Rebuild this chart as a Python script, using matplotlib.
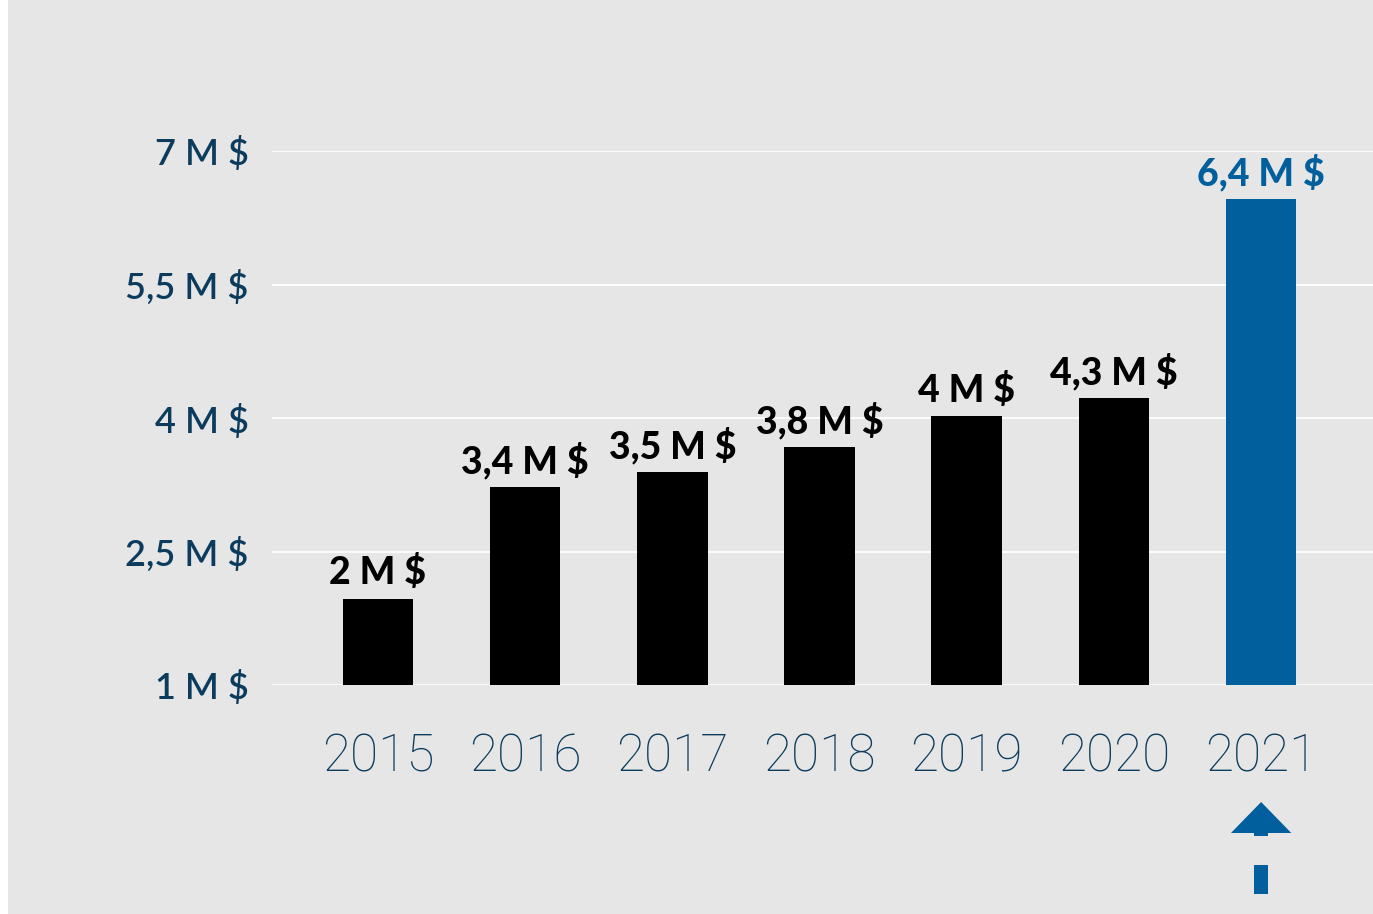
import matplotlib.pyplot as plt
from matplotlib.patches import Rectangle, Polygon
from matplotlib.transforms import blended_transform_factory

# data
years = ['2015', '2016', '2017', '2018', '2019', '2020', '2021']
heights = [1.97, 3.22, 3.39, 3.67, 4.02, 4.22, 6.46]
value_labels = ['2 M $', '3,4 M $', '3,5 M $', '3,8 M $', '4 M $', '4,3 M $', '6,4 M $']
y_ticks = [1, 2.5, 4, 5.5, 7]
y_tick_labels = ['1 M $', '2,5 M $', '4 M $', '5,5 M $', '7 M $']

BG = '#e6e6e6'
NAVY = '#0b3c5d'
BLUE = '#005f9c'

W, H = 1373, 914
fig = plt.figure(figsize=(W / 100, H / 100), dpi=100, facecolor='white')
fig.patches.append(Rectangle((8 / W, 0), 1 - 8 / W, 1, transform=fig.transFigure,
                             facecolor=BG, edgecolor='none', zorder=-10))

ax = fig.add_axes([272 / W, (H - 685) / H, (W - 272) / W, (685 - 151) / H])
ax.set_facecolor(BG)
ax.patch.set_alpha(0)
for s in ax.spines.values():
    s.set_visible(False)

x = list(range(len(years)))
colors = ['black'] * (len(years) - 1) + [BLUE]
ax.bar(x, [h - 1 for h in heights], bottom=1, width=0.48, color=colors, zorder=3)

ax.set_xlim(-0.72, 6.76)
ax.set_ylim(1, 7)
ax.set_yticks(y_ticks)
ax.set_yticklabels(y_tick_labels, fontfamily='Lato', fontweight='semibold',
                   fontsize=26, color=NAVY)
ax.set_xticks(x)
ax.set_xticklabels(years, fontfamily='Roboto', fontweight='light', fontsize=37, color=NAVY)
ax.tick_params(axis='y', length=0, pad=17)
ax.tick_params(axis='x', length=0, pad=34)
ax.grid(axis='y', color='white', linewidth=1.3, zorder=1)

for i, (h, lab) in enumerate(zip(heights, value_labels)):
    ax.annotate(lab, (i, h), xytext=(0, 19), textcoords='offset points',
                ha='center', va='center', fontfamily='Lato', fontweight='black',
                fontsize=27, color=colors[i], annotation_clip=False)

# arrow below the 2021 label
tr = blended_transform_factory(ax.transData, fig.transFigure)
xc = x[-1]
ax.add_patch(Polygon([(xc - 0.205, 1 - 833 / H), (xc + 0.205, 1 - 833 / H), (xc, 1 - 802 / H)],
                     closed=True, transform=tr, facecolor=BLUE, edgecolor='none', clip_on=False))
ax.add_patch(Rectangle((xc - 0.05, 1 - 836 / H), 0.1, 3 / H, transform=tr,
                       facecolor=BLUE, edgecolor='none', clip_on=False))
ax.add_patch(Rectangle((xc - 0.05, 1 - 894 / H), 0.1, 29 / H, transform=tr,
                       facecolor=BLUE, edgecolor='none', clip_on=False))

fig.savefig('out.png', dpi=100, facecolor=fig.get_facecolor())
